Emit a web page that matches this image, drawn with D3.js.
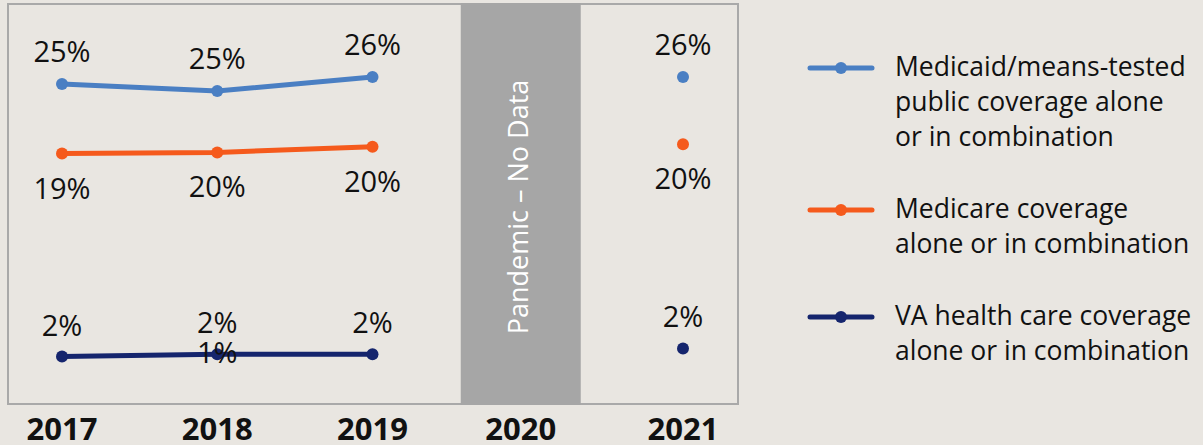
<!DOCTYPE html>
<html>
<head>
<meta charset="utf-8">
<script src="https://cdn.jsdelivr.net/npm/d3@7"></script>
<style>
  html, body { margin: 0; padding: 0; background: #e9e6e1; }
  svg { display: block; }
  text { font-family: "Open Sans", "Noto Sans", sans-serif; }
</style>
</head>
<body>
<svg id="chart" width="1203" height="445"></svg>
<script>
// ---- data ----
const years = [2017, 2018, 2019, 2020, 2021];
const dataYears = [2017, 2018, 2019, 2021];
const connectedYears = [2017, 2018, 2019];
const gapYear = 2020;
const gapLabel = "Pandemic – No Data";

const seriesNames = ["Medicaid", "Medicare", "VA"];
const medicaidValues = [25.0, 24.4, 25.6, 25.6];
const medicareValues = [19.0, 19.1, 19.6, 19.8];
const vaValues = [1.5, 1.7, 1.7, 2.2];

const medicaidLabels = ["25%", "25%", "26%", "26%"];
const medicareLabels = ["19%", "20%", "20%", "20%"];
const vaLabels = ["2%", "2%", "2%", "2%"];
const vaExtraLabels = ["", "1%", "", ""];

const legendLines = [
  ["Medicaid/means-tested", "public coverage alone", "or in combination"],
  ["Medicare coverage", "alone or in combination"],
  ["VA health care coverage", "alone or in combination"]
];
const colors = ["#4a7fc3", "#f55a1c", "#15256d"];

// ---- layout ----
const svg = d3.select("#chart");
const box = { left: 8, top: 4, right: 738, bottom: 404 };

const x = d3.scaleLinear().domain([2017, 2021]).range([62, 683]);
const y = d3.scaleLinear().domain([0, 30]).range([374, 26]);

// plot frame
svg.append("rect")
  .attr("x", box.left).attr("y", box.top)
  .attr("width", box.right - box.left).attr("height", box.bottom - box.top)
  .attr("fill", "#e9e6e1").attr("stroke", "#a9a9a9").attr("stroke-width", 2);

// pandemic band
const bandW = 120;
const bandCx = x(gapYear) - 7;
svg.append("rect")
  .attr("x", bandCx - bandW / 2).attr("y", box.top - 1)
  .attr("width", bandW).attr("height", box.bottom - box.top + 2)
  .attr("fill", "#a6a6a6");
svg.append("text")
  .attr("transform", `translate(${bandCx + 7},${(box.top + box.bottom) / 2 + 3}) rotate(-90)`)
  .attr("text-anchor", "middle")
  .attr("fill", "#ffffff")
  .attr("font-size", 27)
  .text(gapLabel);

// year axis labels
svg.append("g").selectAll("text")
  .data(years).join("text")
  .attr("x", d => d === gapYear ? bandCx : x(d))
  .attr("y", 440)
  .attr("text-anchor", "middle")
  .attr("font-size", 31)
  .attr("font-weight", 700)
  .attr("fill", "#111")
  .text(d => d);

// series
const allValues = [medicaidValues, medicareValues, vaValues];
const allLabels = [medicaidLabels, medicareLabels, vaLabels];
const labelOffsets = [-22, 45, -21];

const line = d3.line().x(d => x(d.year)).y(d => y(d.v));

allValues.forEach((vals, si) => {
  const pts = dataYears.map((yr, i) => ({ year: yr, v: vals[i], label: allLabels[si][i] }));
  const connected = pts.filter(p => connectedYears.includes(p.year));
  svg.append("path")
    .datum(connected)
    .attr("d", line)
    .attr("fill", "none")
    .attr("stroke", colors[si])
    .attr("stroke-width", 5);
  svg.append("g").selectAll("circle")
    .data(pts).join("circle")
    .attr("cx", d => x(d.year)).attr("cy", d => y(d.v))
    .attr("r", 6)
    .attr("fill", colors[si]);
  svg.append("g").selectAll("text")
    .data(pts).join("text")
    .attr("x", d => x(d.year))
    .attr("y", d => y(d.v) + labelOffsets[si])
    .attr("text-anchor", "middle")
    .attr("font-size", 29)
    .attr("font-weight", 500)
    .attr("fill", "#111")
    .text(d => d.label);
});

// stray extra label (as in reference)
svg.append("g").selectAll("text")
  .data(dataYears.map((yr, i) => ({ year: yr, v: vaValues[i], t: vaExtraLabels[i] })).filter(d => d.t))
  .join("text")
  .attr("x", d => x(d.year))
  .attr("y", d => y(d.v) + 9)
  .attr("text-anchor", "middle")
  .attr("font-size", 29)
  .attr("font-weight", 500)
  .attr("fill", "#111")
  .text(d => d.t);

// legend
const legendY = [68, 210, 317];
const lg = svg.append("g");
legendLines.forEach((lines, i) => {
  const g = lg.append("g").attr("transform", `translate(0,${legendY[i]})`);
  g.append("line")
    .attr("x1", 810).attr("x2", 872).attr("y1", 0).attr("y2", 0)
    .attr("stroke", colors[i]).attr("stroke-width", 5).attr("stroke-linecap", "round");
  g.append("circle").attr("cx", 841).attr("cy", 0).attr("r", 6).attr("fill", colors[i]);
  g.selectAll("text").data(lines).join("text")
    .attr("x", 895)
    .attr("y", (d, j) => 8 + j * 35)
    .attr("font-size", 26.5)
    .attr("fill", "#111")
    .text(d => d);
});
</script>
</body>
</html>
